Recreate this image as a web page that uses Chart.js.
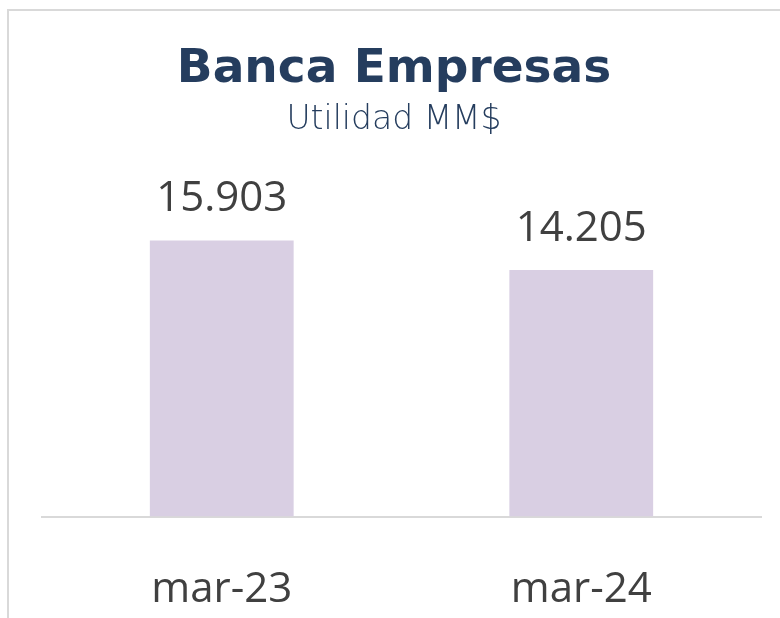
<!DOCTYPE html>
<html>
<head>
<meta charset="utf-8">
<script src="https://cdn.jsdelivr.net/npm/chart.js@4.4.1/dist/chart.umd.min.js"></script>
<style>
  html, body { margin: 0; padding: 0; background: #fff; overflow: hidden; }
  #wrap { position: relative; width: 780px; height: 618px; }
  #frame { position: absolute; left: 7px; top: 9px; right: 0; bottom: 0;
           border-left: 2px solid #d9d9d9; border-top: 2px solid #d9d9d9; }
  canvas { position: absolute; left: 0; top: 0; }
</style>
</head>
<body>
<div id="wrap">
  <div id="frame"></div>
  <canvas id="utilidadChart" width="780" height="618"></canvas>
</div>
<script>
// Chart data
const categories = ['mar-23', 'mar-24'];
const utilidad = [15903, 14205];
const valueLabels = ['15.903', '14.205'];

const titleColor = '#253d5e';
const textColor = '#404040';
const barColor = '#d9cfe3';

// Draw value labels above each bar
const barValuesPlugin = {
  id: 'barValues',
  afterDatasetsDraw(chart) {
    const ctx = chart.ctx;
    const meta = chart.getDatasetMeta(0);
    ctx.save();
    ctx.font = '42px "Open Sans"';
    ctx.fillStyle = textColor;
    ctx.textAlign = 'center';
    ctx.textBaseline = 'alphabetic';
    meta.data.forEach((bar, i) => {
      ctx.fillText(valueLabels[i], bar.x, bar.y - 29);
    });
    ctx.restore();
  }
};

const ctx = document.getElementById('utilidadChart');
new Chart(ctx, {
  type: 'bar',
  data: {
    labels: categories,
    datasets: [{
      label: 'Utilidad MM$',
      data: utilidad,
      backgroundColor: barColor,
      categoryPercentage: 0.4,
      barPercentage: 1
    }]
  },
  options: {
    responsive: false,
    animation: false,
    layout: {
      padding: { left: 27, right: 19, top: 0, bottom: -45 }
    },
    plugins: {
      legend: { display: false },
      tooltip: { enabled: false },
      title: {
        display: true,
        text: 'Banca Empresas',
        color: titleColor,
        font: { family: '"DejaVu Sans"', size: 47, weight: 'bold' },
        padding: { top: 42, bottom: 0 }
      },
      subtitle: {
        display: true,
        text: 'Utilidad MM$',
        color: titleColor,
        font: { family: '"DejaVu Sans"', size: 33, weight: 200 },
        padding: { top: 2, bottom: 12 }
      }
    },
    scales: {
      x: {
        grid: { display: false, drawTicks: false },
        border: { display: true, color: '#d9d9d9', width: 2 },
        ticks: {
          color: textColor,
          font: { family: '"Open Sans"', size: 42 },
          padding: 48
        }
      },
      y: {
        min: 0,
        max: 21000,
        grid: { display: false, drawTicks: false },
        border: { display: false },
        ticks: { display: false },
        afterFit(scale) {
          scale.width = 15;
        }
      }
    }
  },
  plugins: [barValuesPlugin]
});
</script>
</body>
</html>
